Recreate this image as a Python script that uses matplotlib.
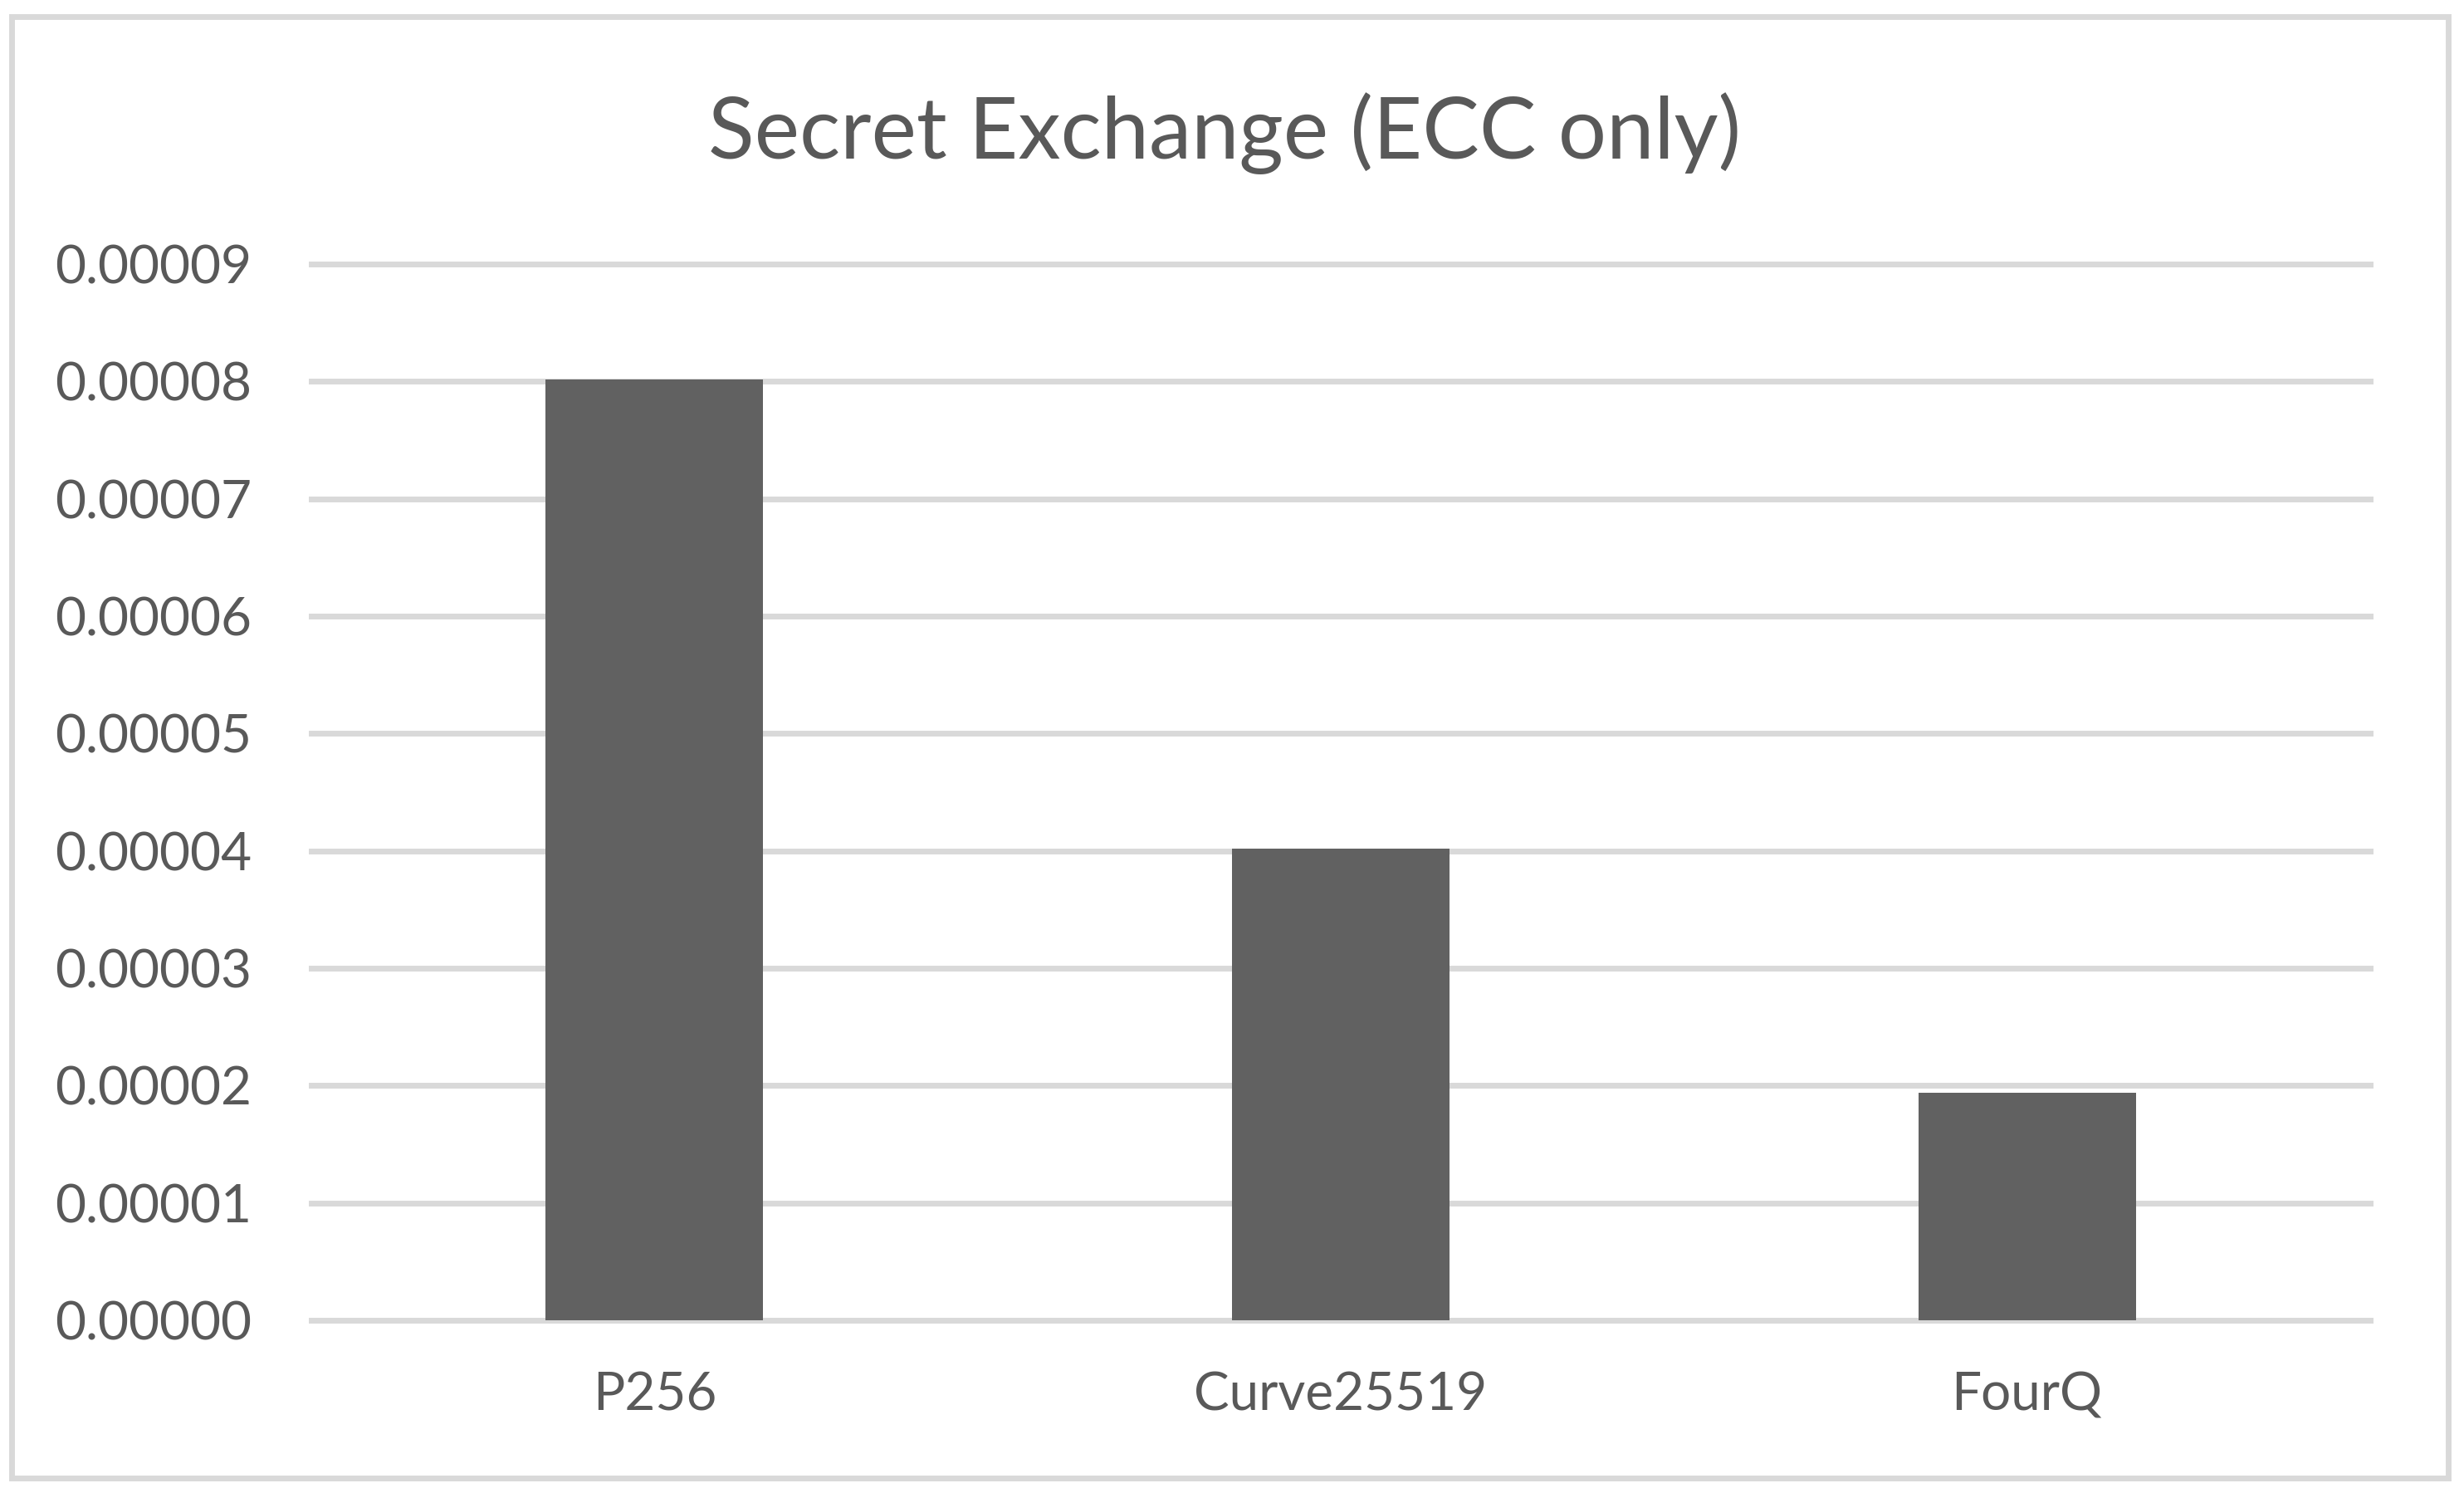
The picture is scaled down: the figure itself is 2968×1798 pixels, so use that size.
import matplotlib
matplotlib.use("Agg")
import matplotlib.pyplot as plt
from matplotlib.patches import Rectangle
from matplotlib.ticker import FuncFormatter, MultipleLocator

categories = ["P256", "Curve25519", "FourQ"]
values = [8.02e-5, 4.02e-5, 1.94e-5]
title = "Secret Exchange (ECC only)"

TEXT = "#595959"
BAR = "#616161"
GRID = "#D9D9D9"

plt.rcParams['font.family'] = ['Lato', 'DejaVu Sans']

W, H = 2968, 1798
fig = plt.figure(figsize=(W / 100, H / 100), dpi=100)
fig.patch.set_facecolor("white")

left, right = 375 / W, 2855 / W
bottom, top = (H - 1590) / H, (H - 318) / H
ax = fig.add_axes([left, bottom, right - left, top - bottom])

x = list(range(len(categories)))
ax.bar(x, values, width=0.317, color=BAR, zorder=3)
ax.set_xlim(-0.5, len(categories) - 0.5)
ax.set_ylim(0, 9e-5)
ax.yaxis.set_major_locator(MultipleLocator(1e-5))
ax.yaxis.set_major_formatter(FuncFormatter(lambda v, p: f"{v:.5f}"))
ax.set_xticks(x)
ax.set_xticklabels(categories)

ax.grid(axis="y", color=GRID, linewidth=5, zorder=0)
ax.set_axisbelow(True)
for gl in ax.get_ygridlines():
    gl.set_clip_on(False)
for s in ax.spines.values():
    s.set_visible(False)
ax.tick_params(axis="both", length=0, colors=TEXT, labelsize=46)
ax.tick_params(axis="y", pad=52)
ax.tick_params(axis="x", pad=44)

fig.text(1475 / W, (H - 191) / H, title, ha="center", va="baseline",
         fontsize=74, color=TEXT)

border = Rectangle((14 / W, (H - 1780) / H), (2949 - 14) / W, (1780 - 19.5) / H,
                   transform=fig.transFigure, fill=False, edgecolor=GRID,
                   linewidth=5, zorder=10)
fig.patches.append(border)

fig.savefig("out.png", dpi=100, facecolor="white")
